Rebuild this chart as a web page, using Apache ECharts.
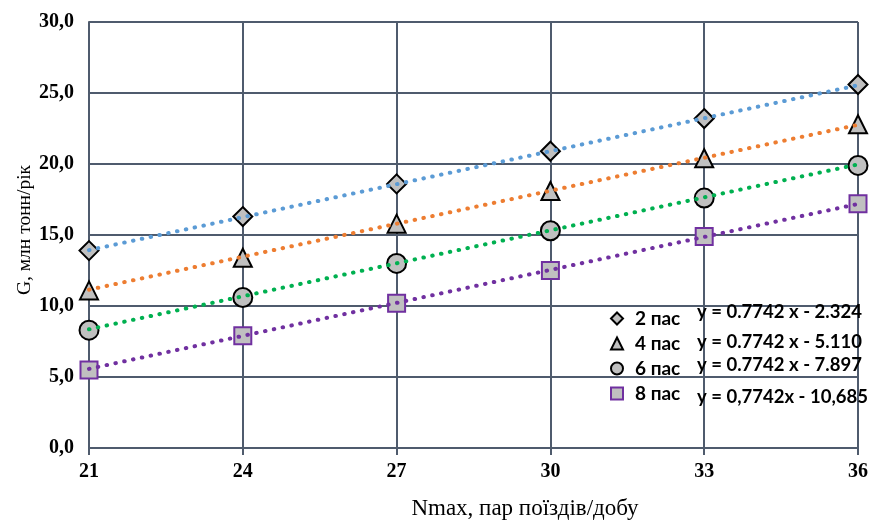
<!DOCTYPE html>
<html>
<head>
<meta charset="utf-8">
<script src="https://cdn.jsdelivr.net/npm/echarts@6/dist/echarts.min.js"></script>
<style>
  html, body { margin: 0; padding: 0; background: #fff; }
  #chart { width: 874px; height: 522px; }
</style>
</head>
<body>
<div id="chart"></div>
<script>
// Train pairs per day (x axis)
const nmax = [21, 24, 27, 30, 33, 36];

// Series names
const seriesNames = ['2 пас', '4 пас', '6 пас', '8 пас'];

// Annual freight volume, mln tonnes per year
const g2 = [13.9, 16.3, 18.6, 20.9, 23.2, 25.6];
const g4 = [11.1, 13.4, 15.8, 18.1, 20.4, 22.8];
const g6 = [8.3, 10.6, 13.0, 15.3, 17.6, 19.9];
const g8 = [5.5, 7.9, 10.2, 12.5, 14.9, 17.2];

// Linear trend coefficients (y = slope * x + intercept)
const trendSlope = [0.7742, 0.7742, 0.7742, 0.7742];
const trendIntercept = [-2.324, -5.110, -7.897, -10.685];

// Trend equation labels
const eqLabels = [
  'y = 0.7742 x - 2.324',
  'y = 0.7742 x - 5.110',
  'y = 0.7742 x - 7.897',
  'y = 0,7742x - 10,685'
];

// Axis settings
const yTicks = { min: 0, max: 30, step: 5 };
const xTicks = { min: 21, max: 36, step: 3 };

const values = [g2, g4, g6, g8];
const symbols = ['diamond', 'triangle', 'circle', 'rect'];
const symbolSizes = [19, 18, 19, 17];
const borderColors = ['#000000', '#000000', '#000000', '#7030a0'];
const trendColors = ['#5b9bd5', '#ed7d31', '#00b050', '#7030a0'];

const chart = echarts.init(document.getElementById('chart'));

const series = [];
values.forEach((vals, i) => {
  series.push({
    name: seriesNames[i],
    type: 'scatter',
    symbol: symbols[i],
    symbolSize: symbolSizes[i],
    itemStyle: { color: '#c0c0c0', borderColor: borderColors[i], borderWidth: 2, opacity: 1 },
    data: nmax.map((x, k) => [x, vals[k]]),
    z: 3
  });
});
trendSlope.forEach((s, i) => {
  const x0 = xTicks.min, x1 = xTicks.max;
  series.push({
    name: 'trend ' + seriesNames[i],
    type: 'line',
    symbol: 'none',
    silent: true,
    lineStyle: { color: trendColors[i], width: 4, type: [0.5, 8.5], cap: 'round' },
    data: [[x0, s * x0 + trendIntercept[i]], [x1, s * x1 + trendIntercept[i]]],
    z: 4
  });
});

// Equation labels beside the legend
const eqCenters = [312, 342, 365, 397];
const graphics = eqLabels.map((t, i) => ({
  type: 'text',
  x: 697,
  y: eqCenters[i],
  z: 10,
  style: { text: t, font: 'bold 18.5px Lato', fill: '#000', align: 'left', verticalAlign: 'middle' }
}));
// Axis titles
graphics.push({
  type: 'text',
  x: 525,
  y: 509,
  style: { text: 'Nmax, пар поїздів/добу', font: '23px "Liberation Serif"', fill: '#000', align: 'center', verticalAlign: 'middle' }
});
graphics.push({
  type: 'text',
  x: 25,
  y: 230,
  rotation: Math.PI / 2,
  style: { text: 'G, млн тонн/рік', font: '19.5px "Liberation Serif"', fill: '#000', align: 'center', verticalAlign: 'middle' }
});

chart.setOption({
  animation: false,
  backgroundColor: '#ffffff',
  grid: { left: 89, right: 16, top: 22, bottom: 74 },
  xAxis: {
    type: 'value',
    min: xTicks.min,
    max: xTicks.max,
    interval: xTicks.step,
    axisLine: { show: true, lineStyle: { color: '#4f5b6d', width: 2 } },
    axisTick: { show: true, length: 7, lineStyle: { color: '#4f5b6d', width: 2 } },
    splitLine: { show: true, lineStyle: { color: '#4f5b6d', width: 2 } },
    axisLabel: { color: '#000', fontFamily: 'Liberation Serif', fontWeight: 'bold', fontSize: 20, margin: 14 }
  },
  yAxis: {
    type: 'value',
    min: yTicks.min,
    max: yTicks.max,
    interval: yTicks.step,
    axisLine: { show: true, lineStyle: { color: '#4f5b6d', width: 2 } },
    axisTick: { show: false },
    splitLine: { show: true, lineStyle: { color: '#4f5b6d', width: 2 } },
    axisLabel: {
      color: '#000', fontFamily: 'Liberation Serif', fontWeight: 'bold', fontSize: 20, margin: 15,
      formatter: v => v.toFixed(1).replace('.', ',')
    }
  },
  legend: {
    data: seriesNames,
    orient: 'vertical',
    left: 605,
    top: 304,
    itemWidth: 12,
    itemHeight: 12,
    itemGap: 6,
    textStyle: { color: '#000', fontFamily: 'Lato', fontWeight: 'bold', fontSize: 19, padding: [0, 0, 0, 7] }
  },
  graphic: graphics,
  series: series
});
</script>
</body>
</html>
